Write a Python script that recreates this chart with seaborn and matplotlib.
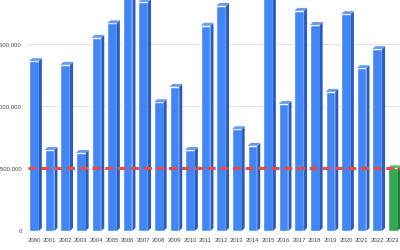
import matplotlib
matplotlib.use("Agg")
import matplotlib.pyplot as plt
import seaborn as sns
import pandas as pd
from matplotlib.patches import Polygon
from matplotlib.transforms import IdentityTransform

years = [str(y) for y in range(2000, 2024)]
values = [4090000, 1950000, 4000000, 1880000, 4650000, 5000000, 6000000, 5510000,
          3100000, 3470000, 1950000, 4940000, 5420000, 2450000, 2050000, 6200000,
          3060000, 5300000, 4960000, 3350000, 5220000, 3920000, 4380000, 1510000]
reference_level = 1510000
ytick_vals = [0, 1500000, 3000000, 4500000]
ytick_labels = ["0", "1,500,000", "3,000,000", "4,500,000"]

blue_front, blue_side, blue_top = "#4285F4", "#2a5bbf", "#6a9cf6"
green_front, green_side, green_top = "#34A853", "#237a3a", "#5cc074"

df = pd.DataFrame({"year": years, "value": values})
front_colors = [blue_front] * (len(years) - 1) + [green_front]
side_colors = [blue_side] * (len(years) - 1) + [green_side]
top_colors = [blue_top] * (len(years) - 1) + [green_top]

sns.set_style("white")
plt.rcParams["font.family"] = ["Liberation Sans", "DejaVu Sans"]
fig = plt.figure(figsize=(4, 2.5), dpi=100)
ax = fig.add_axes([0.07, 0.076, 0.93, 0.924])

sns.barplot(data=df, x="year", y="value", hue="year", palette=front_colors,
            legend=False, width=0.62, saturation=1, ax=ax, zorder=3)

ax.set_xlim(-0.385, 23.46)
ax.set_ylim(0, 5562000)
ax.set_yticks(ytick_vals)
ax.set_yticklabels(ytick_labels)
ax.grid(axis="y", color="#e3e3e3", linewidth=0.8, zorder=0)
ax.set_axisbelow(True)
for s in ax.spines.values():
    s.set_visible(False)
ax.tick_params(axis="both", length=0, labelsize=4.3, labelcolor="#444444")
ax.tick_params(axis="y", pad=4.3)
ax.tick_params(axis="x", pad=5)
ax.set_xlabel("")
ax.set_ylabel("")

# 3D faces derived from the seaborn bar patches
dx, dy = 3.0, 3.0
fig.canvas.draw()
for i, p in enumerate(ax.patches[:len(years)]):
    x0, y0 = p.get_x(), p.get_y()
    x1, y1 = x0 + p.get_width(), y0 + p.get_height()
    (X0, Y0) = ax.transData.transform((x0, y0))
    (X1, Y1) = ax.transData.transform((x1, y1))
    side = Polygon([(X1, Y0), (X1 + dx, Y0 + dy), (X1 + dx, Y1 + dy), (X1, Y1)],
                   closed=True, facecolor=side_colors[i], edgecolor="none",
                   transform=IdentityTransform(), zorder=3)
    top = Polygon([(X0, Y1), (X1, Y1), (X1 + dx, Y1 + dy), (X0 + dx, Y1 + dy)],
                  closed=True, facecolor=top_colors[i], edgecolor="none",
                  transform=IdentityTransform(), zorder=3)
    ax.add_patch(side)
    ax.add_patch(top)

ax.axhline(reference_level, color="#e0504a", linewidth=2.3,
           linestyle=(0, (2.6, 1.4)), zorder=5)

fig.savefig("out.png", dpi=100)
